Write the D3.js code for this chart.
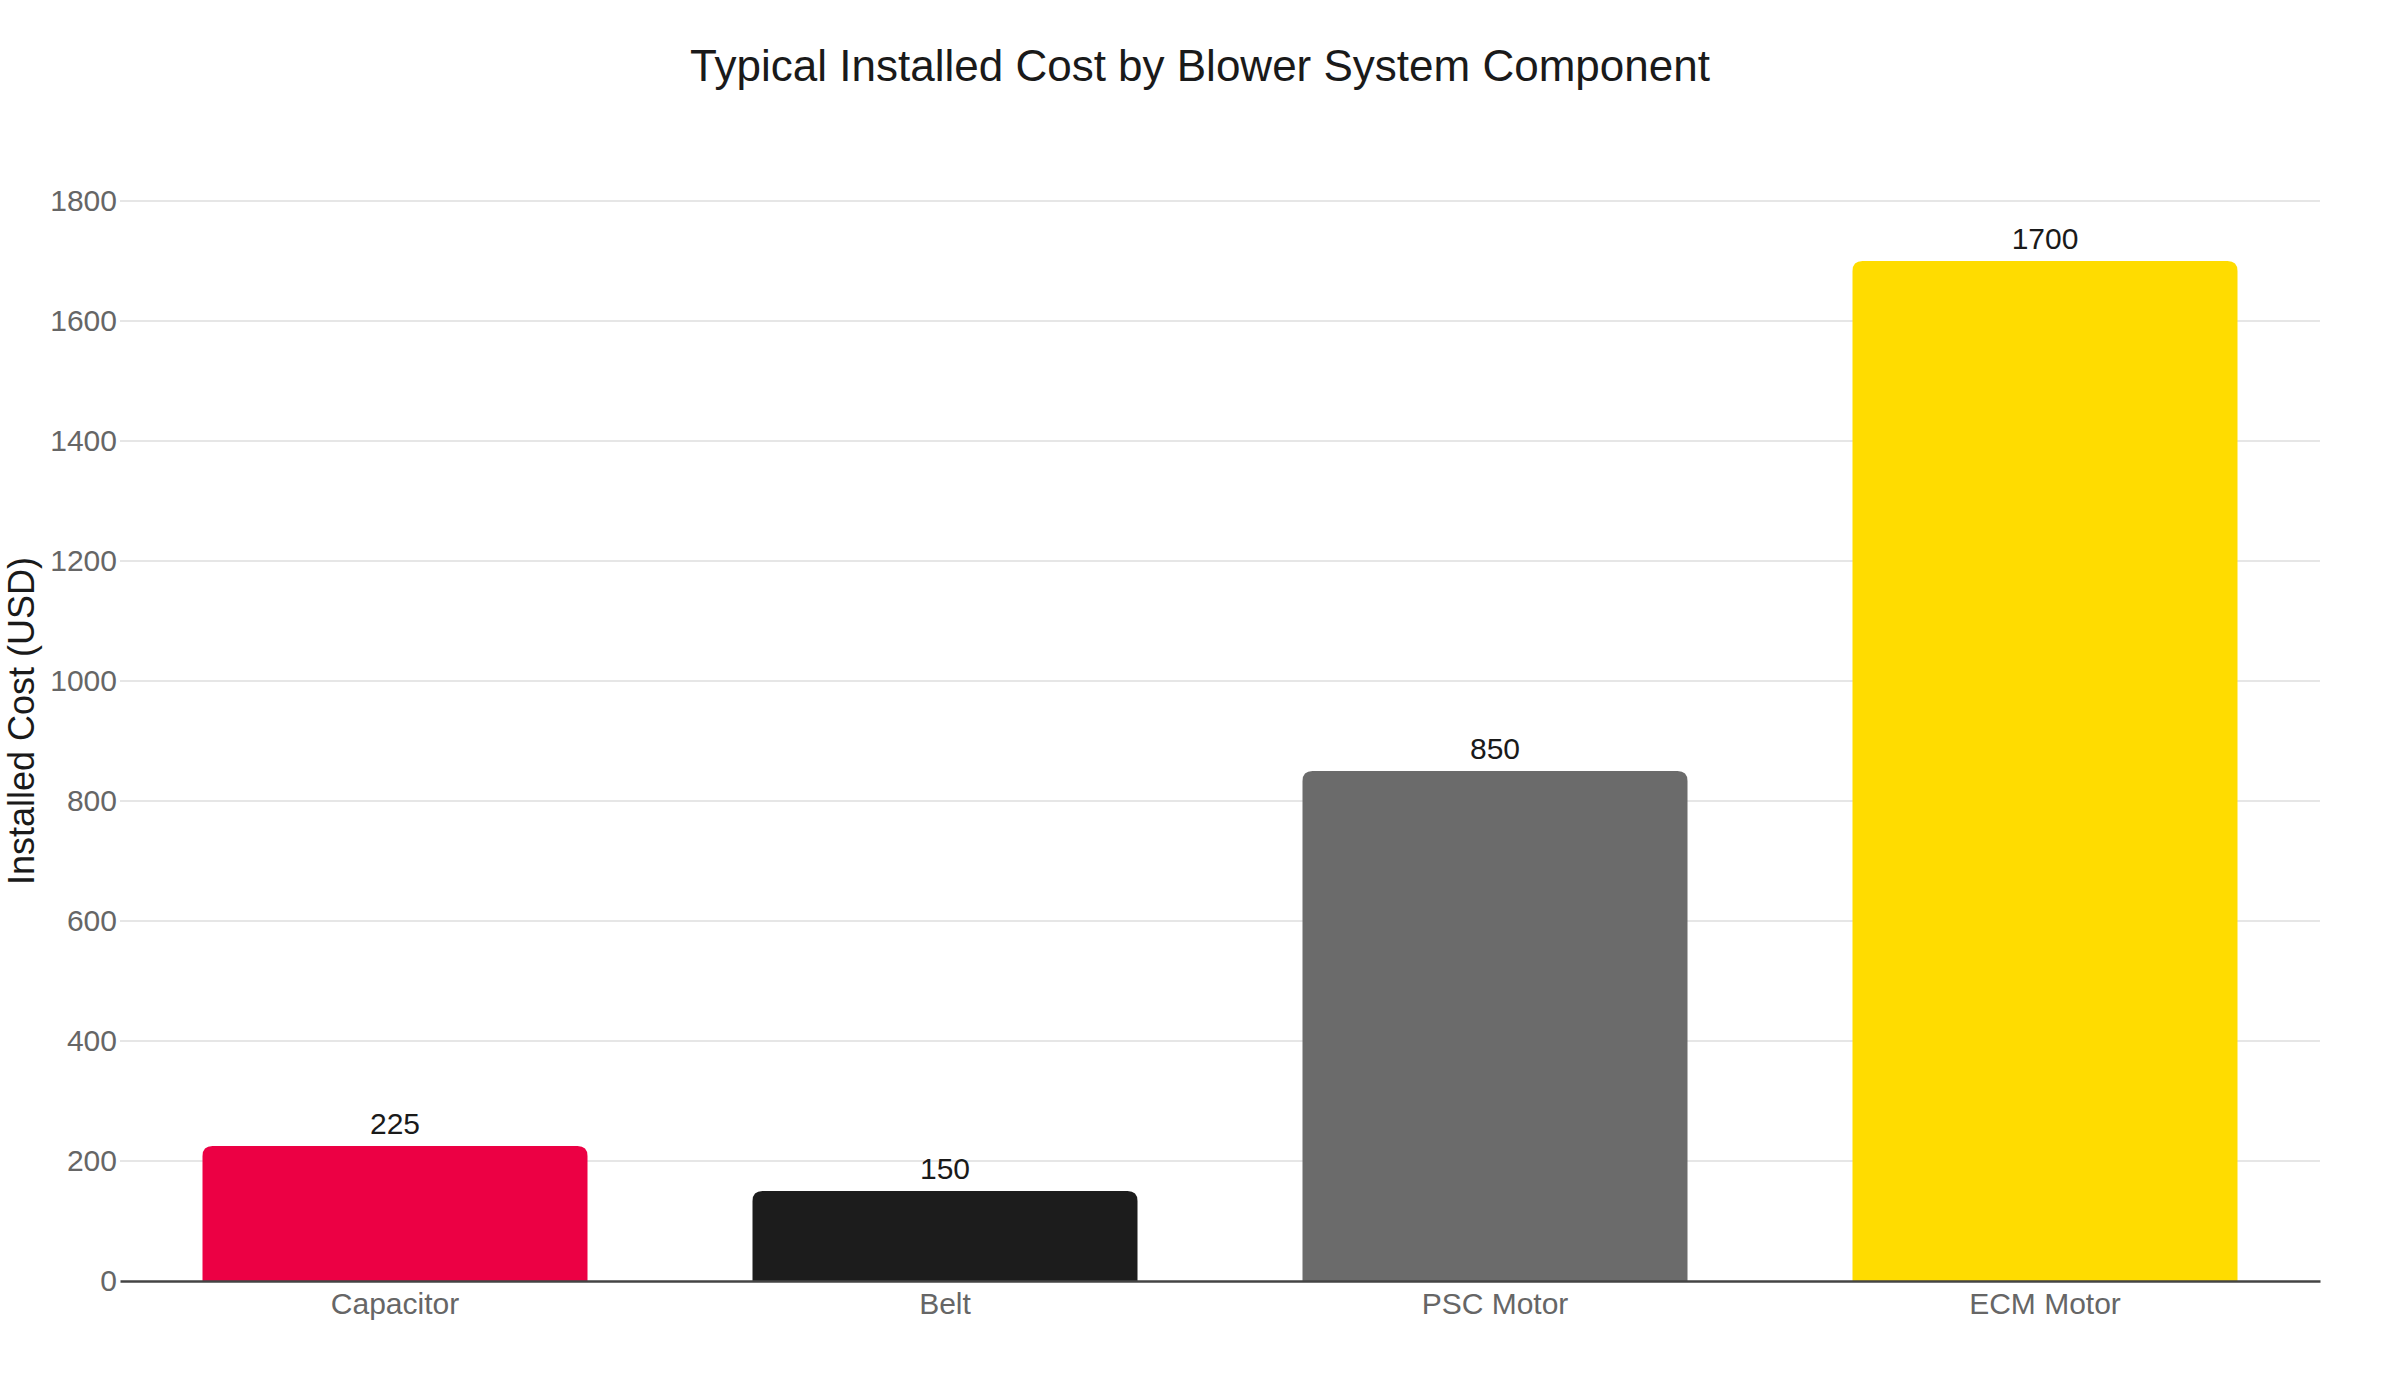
<!DOCTYPE html>
<html>
<head>
<meta charset="utf-8">
<script src="https://cdn.jsdelivr.net/npm/d3@7"></script>
<style>
  body { margin: 0; background: #fff; }
  text { font-family: "Liberation Sans", Arial, Helvetica, sans-serif; }
</style>
</head>
<body>
<div id="chart"></div>
<script>
var categories = ["Capacitor", "Belt", "PSC Motor", "ECM Motor"];
var costs = [225, 150, 850, 1700];
var barColors = ["#EC0044", "#1C1C1C", "#6B6B6B", "#FFDC00"];
var yTicks = [0, 200, 400, 600, 800, 1000, 1200, 1400, 1600, 1800];

var width = 2400, height = 1400;
var plotLeft = 120, plotRight = 2320, plotTop = 201, plotBottom = 1281;

var data = categories.map(function (c, i) {
  return { name: c, value: costs[i], color: barColors[i] };
});

var svg = d3.select("#chart")
  .append("svg")
  .attr("width", width)
  .attr("height", height);

var x = d3.scaleBand()
  .domain(categories)
  .range([plotLeft, plotRight])
  .paddingInner(0.3)
  .paddingOuter(0.15);

var y = d3.scaleLinear()
  .domain([0, 1800])
  .range([plotBottom, plotTop]);

// gridlines
svg.append("g")
  .selectAll("line")
  .data(yTicks.filter(function (d) { return d > 0; }))
  .enter()
  .append("line")
  .attr("x1", plotLeft)
  .attr("x2", plotRight)
  .attr("y1", function (d) { return y(d); })
  .attr("y2", function (d) { return y(d); })
  .attr("stroke", "#e6e6e6")
  .attr("stroke-width", 2);

// y tick labels
var yAxis = d3.axisLeft(y).tickValues(yTicks).tickFormat(d3.format("d"))
  .tickSize(0).tickPadding(3);
var gy = svg.append("g")
  .attr("transform", "translate(" + plotLeft + ",0)")
  .call(yAxis);
gy.select(".domain").remove();
gy.selectAll("text")
  .attr("fill", "#666")
  .style("font-size", "30px")
  .style("font-family", "'Liberation Sans', Arial, sans-serif");

// bars with rounded top corners
function barPath(d) {
  var x0 = x(d.name), x1 = x0 + x.bandwidth();
  var y0 = y(0), y1 = y(d.value);
  var r = Math.min(10, (y0 - y1) / 2);
  return "M" + x0 + "," + y0 +
    "V" + (y1 + r) +
    "Q" + x0 + "," + y1 + " " + (x0 + r) + "," + y1 +
    "H" + (x1 - r) +
    "Q" + x1 + "," + y1 + " " + x1 + "," + (y1 + r) +
    "V" + y0 + "Z";
}

svg.append("g")
  .selectAll("path")
  .data(data)
  .enter()
  .append("path")
  .attr("d", barPath)
  .attr("fill", function (d) { return d.color; });

// value labels
svg.append("g")
  .selectAll("text")
  .data(data)
  .enter()
  .append("text")
  .attr("x", function (d) { return x(d.name) + x.bandwidth() / 2; })
  .attr("y", function (d) { return y(d.value) - 12; })
  .attr("text-anchor", "middle")
  .attr("fill", "#1a1a1a")
  .style("font-size", "30px")
  .text(function (d) { return d.value; });

// x axis (zero line) and category labels
var xAxis = d3.axisBottom(x).tickSize(0).tickPadding(12);
var gx = svg.append("g")
  .attr("transform", "translate(0," + plotBottom + ")")
  .call(xAxis);
gx.select(".domain")
  .attr("stroke", "#444")
  .attr("stroke-width", 2.5);
gx.selectAll("text")
  .attr("fill", "#666")
  .style("font-size", "30px")
  .style("font-family", "'Liberation Sans', Arial, sans-serif");

// y axis title
svg.append("text")
  .attr("transform", "translate(34,721) rotate(-90)")
  .attr("text-anchor", "middle")
  .attr("fill", "#1a1a1a")
  .style("font-size", "36px")
  .text("Installed Cost (USD)");

// chart title
svg.append("text")
  .attr("x", 1200)
  .attr("y", 81)
  .attr("text-anchor", "middle")
  .attr("fill", "#1a1a1a")
  .style("font-size", "44px")
  .text("Typical Installed Cost by Blower System Component");
</script>
</body>
</html>
